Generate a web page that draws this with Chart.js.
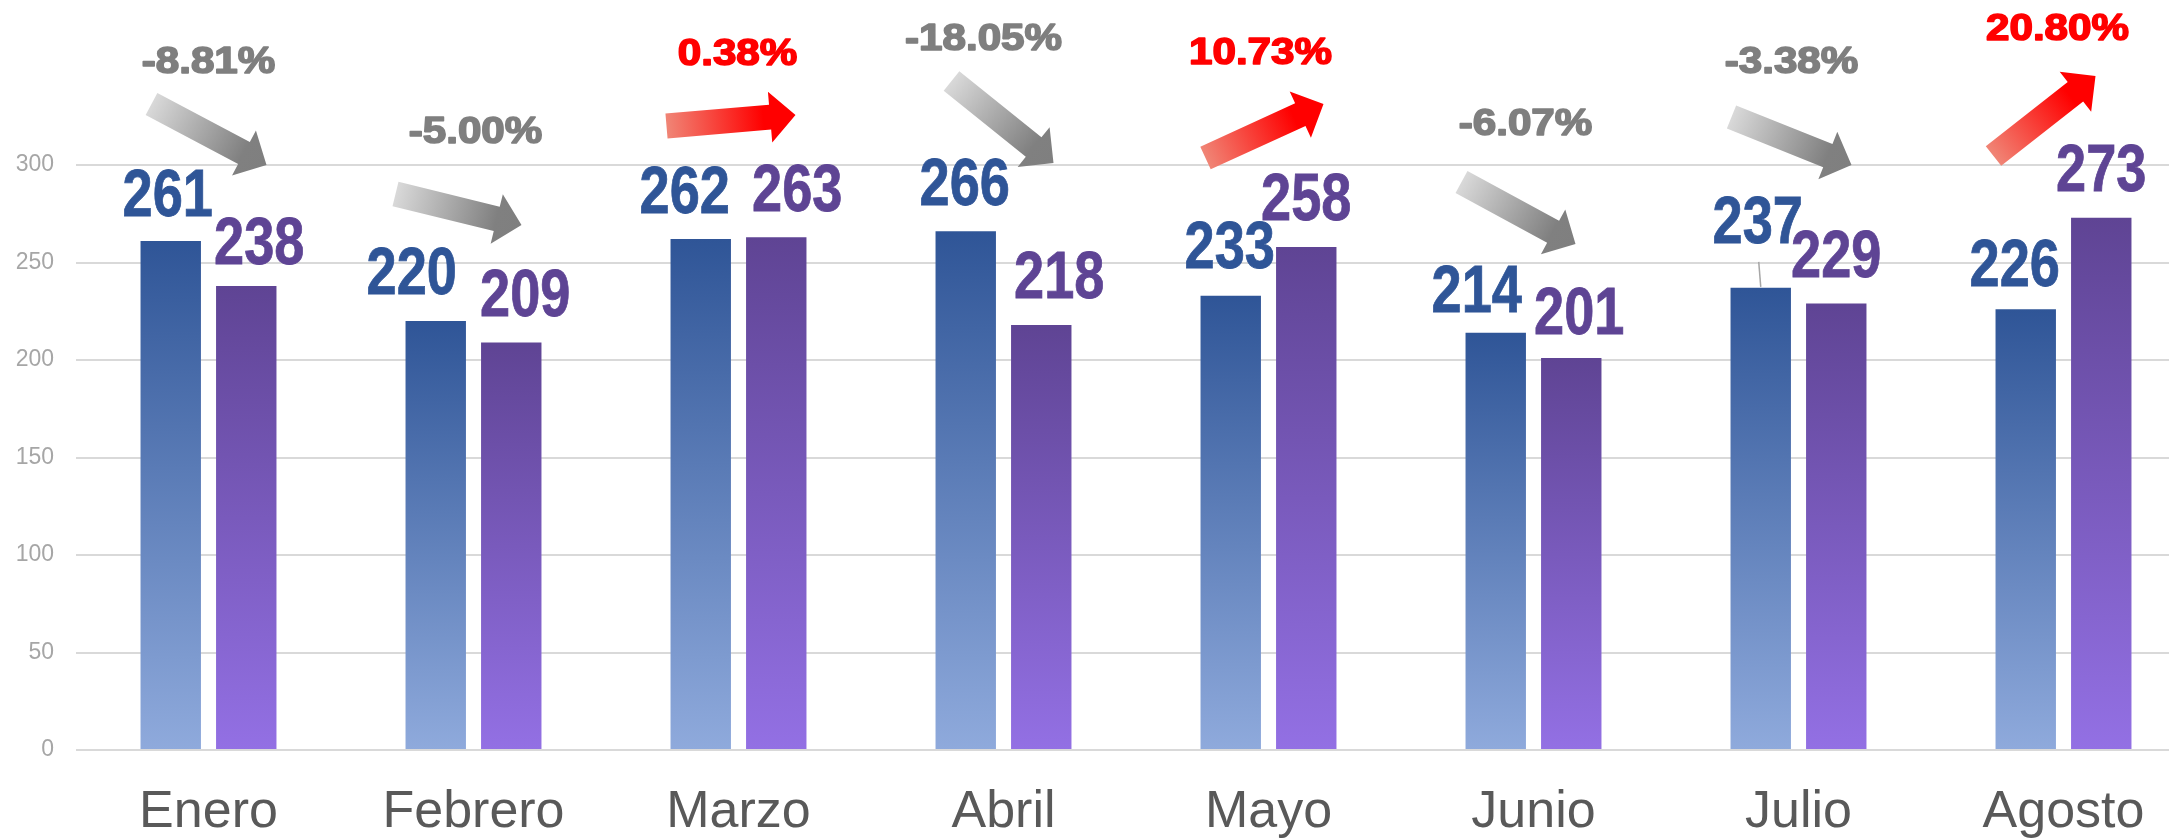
<!DOCTYPE html>
<html><head><meta charset="utf-8">
<script src="https://cdn.jsdelivr.net/npm/chart.js@4.4.0/dist/chart.umd.min.js"></script>
<style>
html,body{margin:0;padding:0;background:#fff;overflow:hidden;width:2169px;height:839px}
#wrap{width:2196px;height:839px}
canvas{display:block}
</style></head><body>
<div id="wrap"><canvas id="c" width="2196" height="839"></canvas></div>
<script>
// ---- data ----
const months = ['Enero','Febrero','Marzo','Abril','Mayo','Junio','Julio','Agosto'];
const seriesA = [261,220,262,266,233,214,237,226];
const seriesB = [238,209,263,218,258,201,229,273];
const changeLabels = ['-8.81%','-5.00%','0.38%','-18.05%','10.73%','-6.07%','-3.38%','20.80%'];
const yTicks = [0,50,100,150,200,250,300];

// ---- annotation layout (pixel nudges, not data) ----
const labelNudgeA = [[-3,1],[-24,-1],[-16,0],[-1,0],[-1,-2],[-19,5],[-3,-19],[-11,3]];
const labelNudgeB = [[13,4],[14,0],[21,0],[18,-1],[0,-1],[8,2],[0,0],[0,-1]];
const changeTextPos = [[0,73],[2,143],[-1,65],[-20,50],[-8,64],[-8,135],[-7,73],[-6,40]];
const arrowPos = [[-57,104,58,165],[-78,194,48,225],[-72,126,57,115],[-52,81,50,163],[-63,158,55,104],[-72,182,42,244],[-67,117,53,165],[-70,156,32,76]];

const BLUE_TEXT = '#2f5597', PURPLE_TEXT = '#5e4494';

function barGrad(topColor, bottomColor) {
  return (c) => {
    const chart = c.chart, area = chart.chartArea;
    if (!area || c.type !== 'data') return topColor;
    const yTop = chart.scales.y.getPixelForValue(c.raw);
    const g = chart.ctx.createLinearGradient(0, yTop, 0, area.bottom);
    g.addColorStop(0, topColor);
    g.addColorStop(1, bottomColor);
    return g;
  };
}

function narrowText(ctx, text, x, y, color) {
  ctx.save();
  ctx.translate(x, y);
  ctx.scale(0.82, 1);
  ctx.font = 'bold 66px "Liberation Sans", Arial, sans-serif';
  ctx.fillStyle = color;
  ctx.strokeStyle = color;
  ctx.lineWidth = 0.8;
  ctx.textAlign = 'center';
  ctx.textBaseline = 'alphabetic';
  ctx.fillText(text, 0, 0);
  ctx.strokeText(text, 0, 0);
  ctx.restore();
}

function wideText(ctx, text, x, y, color) {
  ctx.save();
  ctx.translate(x, y);
  ctx.scale(1.14, 1);
  ctx.font = 'bold 37px "Liberation Sans", Arial, sans-serif';
  ctx.fillStyle = color;
  ctx.strokeStyle = color;
  ctx.lineWidth = 1.6;
  ctx.lineJoin = 'round';
  ctx.textAlign = 'center';
  ctx.textBaseline = 'alphabetic';
  ctx.fillText(text, 0, 0);
  ctx.strokeText(text, 0, 0);
  ctx.restore();
}

function drawArrow(ctx, x0, y0, x1, y1, up) {
  const dx = x1 - x0, dy = y1 - y0, L = Math.hypot(dx, dy);
  const ux = dx / L, uy = dy / L, nx = -uy, ny = ux;
  const sw = 12.5, hw = 25.5, hl = 25.5;
  const hx = x1 - ux * hl, hy = y1 - uy * hl;
  const g = ctx.createLinearGradient(x0, y0, x1, y1);
  if (up) { g.addColorStop(0, '#f08576'); g.addColorStop(0.75, '#ff0000'); g.addColorStop(1, '#ff0000'); }
  else { g.addColorStop(0, '#d9d9d9'); g.addColorStop(0.8, '#808080'); g.addColorStop(1, '#7f7f7f'); }
  ctx.save();
  ctx.beginPath();
  ctx.moveTo(x0 + nx * sw, y0 + ny * sw);
  ctx.lineTo(hx + nx * sw, hy + ny * sw);
  ctx.lineTo(hx + nx * hw, hy + ny * hw);
  ctx.lineTo(x1, y1);
  ctx.lineTo(hx - nx * hw, hy - ny * hw);
  ctx.lineTo(hx - nx * sw, hy - ny * sw);
  ctx.lineTo(x0 - nx * sw, y0 - ny * sw);
  ctx.closePath();
  ctx.fillStyle = g;
  ctx.fill();
  ctx.restore();
}

const overlay = {
  id: 'overlay',
  afterDatasetsDraw(chart) {
    const ctx = chart.ctx, xs = chart.scales.x;
    const metaA = chart.getDatasetMeta(0), metaB = chart.getDatasetMeta(1);
    months.forEach((m, i) => {
      const cx = xs.getPixelForValue(i);
      const up = seriesB[i] >= seriesA[i];
      const a = arrowPos[i];
      drawArrow(ctx, cx + a[0], a[1], cx + a[2], a[3], up);
      wideText(ctx, changeLabels[i], cx + changeTextPos[i][0], changeTextPos[i][1], up ? '#ff0000' : '#7f7f7f');
      const ba = metaA.data[i], bb = metaB.data[i];
      const ya = ba.y - 26 + labelNudgeA[i][1];
      const yb = bb.y - 26 + labelNudgeB[i][1];
      if (ba.y - ya > 35) {
        ctx.save();
        ctx.strokeStyle = '#a6a6a6';
        ctx.lineWidth = 1.5;
        ctx.beginPath();
        ctx.moveTo(ba.x + labelNudgeA[i][0] + 1, ya + 19);
        ctx.lineTo(ba.x, ba.y - 1);
        ctx.stroke();
        ctx.restore();
      }
      narrowText(ctx, String(seriesA[i]), ba.x + labelNudgeA[i][0], ya, BLUE_TEXT);
      narrowText(ctx, String(seriesB[i]), bb.x + labelNudgeB[i][0], yb, PURPLE_TEXT);
    });
  }
};

new Chart(document.getElementById('c'), {
  type: 'bar',
  data: {
    labels: months,
    datasets: [
      { label: 'A', data: seriesA, backgroundColor: barGrad('#2f5597', '#8faadc'), borderWidth: 0,
        categoryPercentage: 0.57, barPercentage: 0.80 },
      { label: 'B', data: seriesB, backgroundColor: barGrad('#5f4494', '#9370e4'), borderWidth: 0,
        categoryPercentage: 0.57, barPercentage: 0.80 }
    ]
  },
  options: {
    responsive: false,
    animation: false,
    events: [],
    layout: { padding: { top: 165, right: 0, left: 0, bottom: 0 } },
    plugins: { legend: { display: false }, tooltip: { enabled: false } },
    scales: {
      x: {
        grid: { display: false, drawTicks: false },
        border: { display: false },
        ticks: { color: '#595959', font: { family: '"Liberation Sans", Arial, sans-serif', size: 52 }, padding: 31, maxRotation: 0, autoSkip: false },
        afterFit: s => { s.height = 89; }
      },
      y: {
        min: 0, max: 300,
        grid: { color: '#d9d9d9', lineWidth: 2, drawTicks: false },
        border: { display: false },
        ticks: { color: '#a6a6a6', font: { family: '"Liberation Sans", Arial, sans-serif', size: 23 }, padding: 22 },
        afterBuildTicks: s => { s.ticks = yTicks.map(v => ({ value: v })); },
        afterFit: s => { s.width = 76; }
      }
    }
  },
  plugins: [overlay]
});
</script>
</body></html>
